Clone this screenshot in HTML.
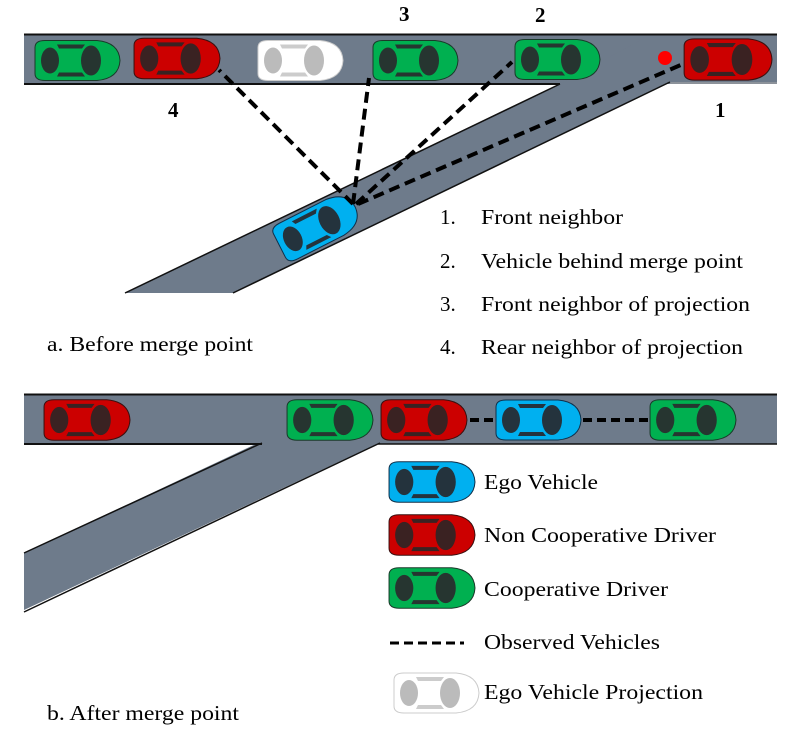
<!DOCTYPE html>
<html><head><style>
html,body{margin:0;padding:0;background:#fff;}
svg{display:block;}
text{font-family:"Liberation Serif",serif;fill:#000;}
</style></head><body>
<svg width="787" height="735" viewBox="0 0 787 735" xmlns="http://www.w3.org/2000/svg">
<defs>
<symbol id="carG" viewBox="0 0 90 44"><path d="M4,9 Q4,2 14,2 L66,2 Q88,4 89,22 Q88,40 66,42 L14,42 Q4,42 4,35 Z" fill="#00b050" stroke="#1a3a2a" stroke-width="1"/><ellipse cx="60" cy="22" rx="10" ry="15" fill="#263530"/><ellipse cx="19" cy="22" rx="9" ry="13" fill="#263530"/><path d="M26,6 L54,6 L51,10 L28,10Z M26,38 L54,38 L51,34 L28,34Z" fill="#263530"/></symbol>
<symbol id="carR" viewBox="0 0 90 44"><path d="M4,9 Q4,2 14,2 L66,2 Q88,4 89,22 Q88,40 66,42 L14,42 Q4,42 4,35 Z" fill="#cc0000" stroke="#3a1010" stroke-width="1"/><ellipse cx="60" cy="22" rx="10" ry="15" fill="#3a2222"/><ellipse cx="19" cy="22" rx="9" ry="13" fill="#3a2222"/><path d="M26,6 L54,6 L51,10 L28,10Z M26,38 L54,38 L51,34 L28,34Z" fill="#3a2222"/></symbol>
<symbol id="carB" viewBox="0 0 90 44"><path d="M4,9 Q4,2 14,2 L66,2 Q88,4 89,22 Q88,40 66,42 L14,42 Q4,42 4,35 Z" fill="#00b0f0" stroke="#10304a" stroke-width="1"/><ellipse cx="60" cy="22" rx="10" ry="15" fill="#24333d"/><ellipse cx="19" cy="22" rx="9" ry="13" fill="#24333d"/><path d="M26,6 L54,6 L51,10 L28,10Z M26,38 L54,38 L51,34 L28,34Z" fill="#24333d"/></symbol>
<symbol id="carW" viewBox="0 0 90 44"><path d="M4,9 Q4,2 14,2 L66,2 Q88,4 89,22 Q88,40 66,42 L14,42 Q4,42 4,35 Z" fill="#fff" stroke="#ccc" stroke-width="1"/><ellipse cx="60" cy="22" rx="10" ry="15" fill="#bbb"/><ellipse cx="19" cy="22" rx="9" ry="13" fill="#bbb"/><path d="M26,6 L54,6 L51,10 L28,10Z M26,38 L54,38 L51,34 L28,34Z" fill="#ccc"/></symbol>
</defs>

<!-- TOP -->
<rect x="24" y="34" width="753" height="50" fill="#6e7b8b"/>
<polygon points="125,293 560,84 650,35 777,35 777,84 670,82 233,293" fill="#6e7b8b"/>
<line x1="24" y1="34.5" x2="777" y2="34.5" stroke="#111" stroke-width="2"/>
<line x1="24" y1="84" x2="560" y2="84" stroke="#111" stroke-width="2"/>
<line x1="670" y1="83" x2="777" y2="83" stroke="#aaa" stroke-width="1"/>
<line x1="125" y1="293" x2="560" y2="84" stroke="#111" stroke-width="1.5"/>
<line x1="233" y1="293" x2="670" y2="82" stroke="#111" stroke-width="1.5"/>

<use href="#carG" x="31" y="37" width="90" height="47"/>
<use href="#carR" x="130" y="35" width="91" height="47"/>
<use href="#carW" x="254" y="37" width="90" height="47"/>
<use href="#carG" x="369" y="37" width="90" height="47"/>
<use href="#carG" x="511" y="36" width="90" height="47"/>
<use href="#carR" x="680" y="36" width="93" height="47"/>
<circle cx="665" cy="58" r="7" fill="#f00"/>

<g transform="translate(316,227) rotate(-27)"><use href="#carB" x="-46" y="-22" width="92" height="44"/></g>

<g stroke="#000" stroke-width="4" stroke-dasharray="11,6" fill="none">
<line x1="353" y1="204" x2="219" y2="70"/>
<line x1="353" y1="204" x2="369" y2="78"/>
<line x1="356" y1="204" x2="512" y2="62"/>
<line x1="358" y1="204" x2="683" y2="64"/>
</g>

<g font-weight="bold" font-size="21">
<text x="399" y="21">3</text><text x="535" y="22">2</text>
<text x="168" y="117">4</text><text x="715" y="117">1</text>
</g>
<g font-size="21" lengthAdjust="spacingAndGlyphs">
<text x="440" y="224">1.</text><text x="481" y="224" textLength="142" lengthAdjust="spacingAndGlyphs">Front neighbor</text>
<text x="440" y="268">2.</text><text x="481" y="268" textLength="262" lengthAdjust="spacingAndGlyphs">Vehicle behind merge point</text>
<text x="440" y="311">3.</text><text x="481" y="311" textLength="269" lengthAdjust="spacingAndGlyphs">Front neighbor of projection</text>
<text x="440" y="354">4.</text><text x="481" y="354" textLength="262" lengthAdjust="spacingAndGlyphs">Rear neighbor of projection</text>
<text x="47" y="351" textLength="206" lengthAdjust="spacingAndGlyphs">a. Before merge point</text>
</g>

<!-- BOTTOM -->
<rect x="24" y="394" width="753" height="50" fill="#6e7b8b"/>
<polygon points="24,553 258,443 379,443 24,610" fill="#6e7b8b"/>
<line x1="24" y1="394.5" x2="777" y2="394.5" stroke="#111" stroke-width="2"/>
<line x1="24" y1="444" x2="262" y2="444" stroke="#111" stroke-width="2"/>
<line x1="378" y1="444" x2="777" y2="444" stroke="#111" stroke-width="1.5"/>
<line x1="24" y1="553" x2="262" y2="443" stroke="#111" stroke-width="1.5"/>
<line x1="24" y1="612" x2="380" y2="443" stroke="#111" stroke-width="1.5"/>

<use href="#carR" x="40" y="397" width="91" height="46"/>
<use href="#carG" x="283" y="397" width="91" height="46"/>
<use href="#carR" x="377" y="397" width="91" height="46"/>
<use href="#carB" x="492" y="397" width="90" height="46"/>
<use href="#carG" x="646" y="397" width="91" height="46"/>
<g stroke="#000" stroke-width="4" stroke-dasharray="9,5"><line x1="470" y1="420" x2="494" y2="420"/><line x1="583" y1="420" x2="648" y2="420"/></g>

<use href="#carB" x="385" y="459" width="91" height="46"/>
<use href="#carR" x="385" y="512" width="91" height="46"/>
<use href="#carG" x="385" y="565" width="91" height="46"/>
<line x1="390" y1="643" x2="464" y2="643" stroke="#000" stroke-width="3" stroke-dasharray="9,5"/>
<use href="#carW" x="390" y="670" width="90" height="46"/>

<g font-size="21">
<text x="484" y="489" textLength="114" lengthAdjust="spacingAndGlyphs">Ego Vehicle</text>
<text x="484" y="542" textLength="232" lengthAdjust="spacingAndGlyphs">Non Cooperative Driver</text>
<text x="484" y="596" textLength="184" lengthAdjust="spacingAndGlyphs">Cooperative Driver</text>
<text x="484" y="649" textLength="176" lengthAdjust="spacingAndGlyphs">Observed Vehicles</text>
<text x="484" y="699" textLength="219" lengthAdjust="spacingAndGlyphs">Ego Vehicle Projection</text>
<text x="47" y="720" textLength="192" lengthAdjust="spacingAndGlyphs">b. After merge point</text>
</g>
</svg>
</body></html>
